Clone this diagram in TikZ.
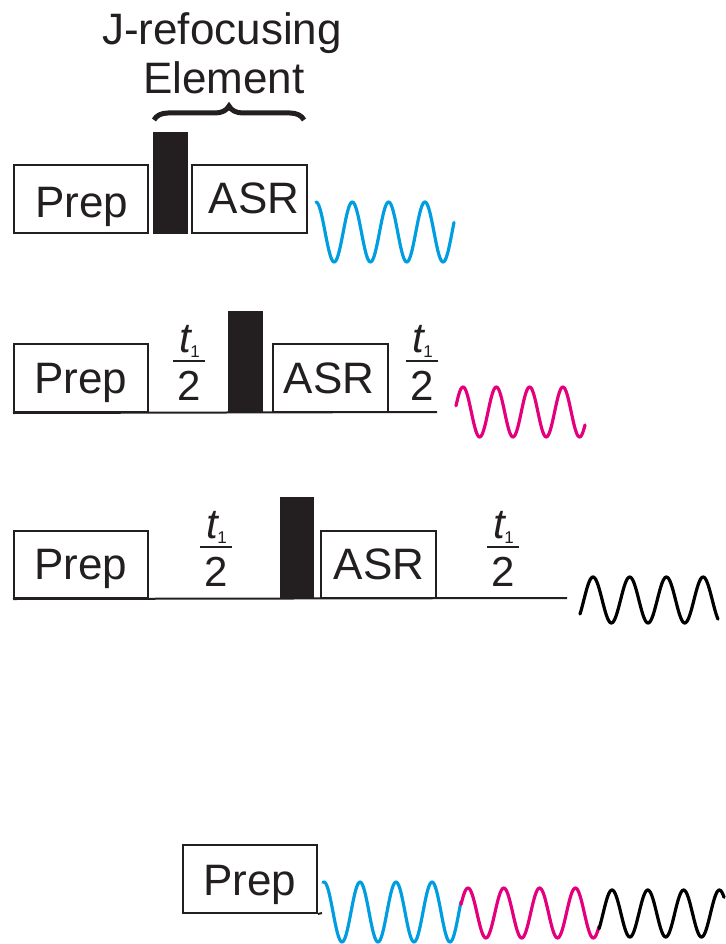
\documentclass[tikz,border=0pt]{standalone}
\usepackage{fontspec}
\setmainfont{Liberation Sans}
\usetikzlibrary{decorations.pathreplacing}
\definecolor{ink}{RGB}{35,31,32}
\definecolor{wblue}{RGB}{0,158,224}
\definecolor{wmag}{RGB}{228,0,124}
\tikzset{
  box/.style={draw=ink, line width=2pt, inner sep=0pt},
  pulse/.style={fill=ink, draw=ink, line width=0.4pt, inner sep=0pt},
  lbl/.style={font=\fontsize{44}{50}\selectfont, text=ink, anchor=base, inner sep=0pt},
  tnum/.style={font=\fontsize{42}{42}\selectfont\itshape, text=ink, anchor=base, inner sep=0pt},
  tsub/.style={font=\fontsize{17}{17}\selectfont, text=ink, anchor=base, inner sep=0pt},
  tden/.style={font=\fontsize{42}{42}\selectfont, text=ink, anchor=base, inner sep=0pt},
  fracline/.style={draw=ink, line width=1.8pt},
  axisline/.style={draw=ink, line width=2pt},
  wave/.style={line width=3.2pt, line cap=round, line join=round},
  bracestyle/.style={draw=ink, line width=5pt, decorate, decoration={brace, amplitude=14pt}},
}
\newcommand{\halffrac}[3]{%
  \node[tnum] (#1t) at (#2-4,#3-9) {t};
  \node[tsub] (#1s) at (#2+6,#3-4) {1};
  \coordinate (#1l) at (#2-16,#3);
  \coordinate (#1r) at (#2+16,#3);
  \draw[fracline] (#1l) -- (#1r);
  \node[tden] (#1d) at (#2,#3+39) {2};
}
\begin{document}
\begin{tikzpicture}[x=1pt,y=-1pt]
\useasboundingbox (0,0) rectangle (725,944);

% ---------- Row 1 ----------
\node[lbl] (title1) at (222,45) {J-refocusing};
\node[lbl] (title2) at (224,94) {Element};
\coordinate (brL) at (154,120);
\coordinate (brR) at (304,120);
\draw[bracestyle] (brL) -- (brR);

\node[box, minimum width=134pt, minimum height=68pt] (prepA) at (81,199) {};
\node[pulse, minimum width=34pt, minimum height=101pt] (pA) at (170,182.5) {};
\node[box, minimum width=115pt, minimum height=68pt] (asrA) at (249.5,199) {};
\node[lbl] (prepAt) at (82,217) {Prep};
\node[lbl] (asrAt) at (254,213) {ASR};
\draw[wave, wblue] plot[smooth, samples=160, domain=316:454] (\x,{232-30*cos((\x-316)/36.3*360)});

% ---------- Row 2 ----------
\node[box, minimum width=134pt, minimum height=68pt] (prepB) at (81,378) {};
\node[pulse, minimum width=34pt, minimum height=101pt] (pB) at (245,361.5) {};
\node[box, minimum width=115pt, minimum height=68pt] (asrB) at (330.5,378) {};
\coordinate (endB) at (437,412);
\draw[axisline] (prepB.south west) -- (endB);
\node[lbl] (prepBt) at (81,393) {Prep};
\node[lbl] (asrBt) at (329,393) {ASR};
\halffrac{fB1}{189}{361}
\halffrac{fB2}{422}{361}
\draw[wave, wmag] plot[smooth, samples=160, domain=456:585] (\x,{412-25*cos((\x-463)/33.3*360)});

% ---------- Row 3 ----------
\node[box, minimum width=134pt, minimum height=67pt] (prepC) at (81,564.5) {};
\node[pulse, minimum width=33pt, minimum height=101pt] (pC) at (296.5,547.5) {};
\node[box, minimum width=115pt, minimum height=67pt] (asrC) at (378.5,564.5) {};
\coordinate (endC) at (567,598);
\draw[axisline] (prepC.south west) -- (endC);
\node[lbl] (prepCt) at (81,579) {Prep};
\node[lbl] (asrCt) at (379,579) {ASR};
\halffrac{fC1}{216}{547}
\halffrac{fC2}{503}{547}
\draw[wave, black] plot[smooth, samples=160, domain=580:718] (\x,{600-23*cos((\x-593)/36.7*360)});

% ---------- Bottom ----------
\node[box, minimum width=134pt, minimum height=68pt] (prepD) at (250,879) {};
\node[lbl] (prepDt) at (250,895) {Prep};
\coordinate (tickD) at (322,913);
\draw[axisline] (prepD.south east) -- (tickD);
\draw[wave, wblue] plot[smooth, samples=160, domain=323:461] (\x,{912-30*cos((\x-324)/36*360)});
\draw[wave, wmag] plot[smooth, samples=160, domain=461:599] (\x,{913-25*cos((\x-468)/35.8*360)});
\draw[wave, black] plot[smooth, samples=160, domain=599:724] (\x,{913.5-23.5*cos((\x-612)/35.8*360)});
\end{tikzpicture}
\end{document}
